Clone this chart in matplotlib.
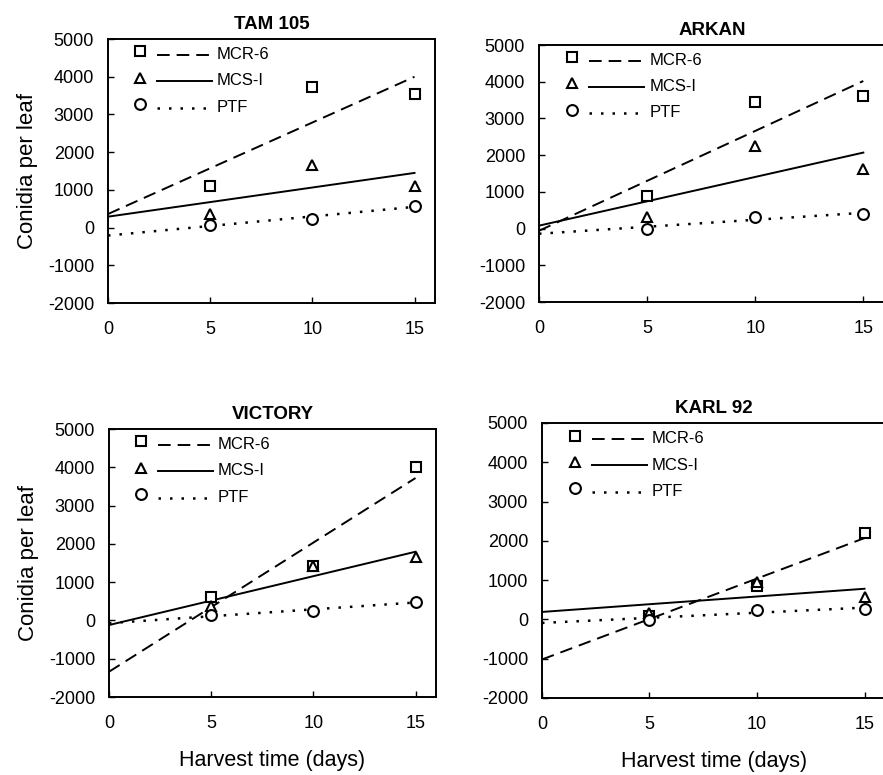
import matplotlib
matplotlib.use('Agg')
import matplotlib.pyplot as plt
from matplotlib.lines import Line2D

plt.rcParams['font.family'] = ['Liberation Sans', 'DejaVu Sans']
plt.rcParams['axes.unicode_minus'] = False

cultivars = ['TAM 105', 'ARKAN', 'VICTORY', 'KARL 92']
days = [5, 10, 15]
fit_days = [0, 15]
x_ticks = [0, 5, 10, 15]
y_ticks = [-2000, -1000, 0, 1000, 2000, 3000, 4000, 5000]
series = ['MCR-6', 'MCS-I', 'PTF']

mcr6_pts = [[1115, 3720, 3530], [900, 3450, 3610], [625, 1425, 4000], [85, 850, 2190]]
mcsi_pts = [[360, 1670, 1115], [315, 2240, 1630], [365, 1410, 1650], [170, 950, 575]]
ptf_pts = [[70, 220, 580], [0, 315, 405], [130, 235, 495], [-15, 240, 255]]

# regression lines, value at day 0 and day 15
mcr6_fit = [[360, 4000], [-60, 4020], [-1340, 3720], [-1020, 2070]]
mcsi_fit = [[290, 1450], [80, 2070], [-120, 1795], [190, 780]]
ptf_fit = [[-210, 550], [-140, 430], [-70, 470], [-90, 300]]

# axes boxes in figure fractions (scan is slightly skewed)
boxes = [[0.1223, 0.609, 0.3703, 0.3406],
         [0.6104, 0.6103, 0.3918, 0.3316],
         [0.1234, 0.1006, 0.3703, 0.3458],
         [0.6138, 0.0994, 0.3896, 0.3548]]

markers = ['s', '^', 'o']
line_kw = [dict(lw=1.4, dashes=(6.5, 3.6)),
           dict(lw=1.4, ls='-'),
           dict(lw=1.8, dashes=(1, 3.6))]


class MarkerLineHandler(object):
    # symbol on the left, line sample on the right
    def legend_artist(self, legend, orig_handle, fontsize, handlebox):
        mk, ln = orig_handle
        x0, y0 = handlebox.xdescent, handlebox.ydescent
        w, h = handlebox.width, handlebox.height
        tr = handlebox.get_transform()
        l = Line2D([x0 + 0.31 * w, x0 + w], [y0 + h * 0.35] * 2)
        l.update_from(ln)
        l.set_transform(tr)
        m = Line2D([x0 + 0.1 * w], [y0 + h * 0.65])
        m.update_from(mk)
        m.set_transform(tr)
        handlebox.add_artist(l)
        handlebox.add_artist(m)
        return l


fig = plt.figure(figsize=(8.83, 7.75), dpi=100)

for i, name in enumerate(cultivars):
    ax = fig.add_axes(boxes[i])
    pts = [mcr6_pts[i], mcsi_pts[i], ptf_pts[i]]
    fits = [mcr6_fit[i], mcsi_fit[i], ptf_fit[i]]
    handles = []
    for k in range(3):
        mk, = ax.plot(days, pts[k], ls='none', marker=markers[k], ms=7.8,
                      mfc='white', mec='black', mew=1.5, zorder=3)
        ln, = ax.plot(fit_days, fits[k], color='black', **line_kw[k])
        handles.append((mk, ln))
    ax.set_xlim(0, 16)
    ax.set_ylim(-2000, 5000)
    ax.set_xticks(x_ticks)
    ax.set_yticks(y_ticks)
    ax.tick_params(axis='x', direction='in', length=4, width=1, labelsize=13, pad=13)
    ax.tick_params(axis='y', direction='in', length=4, width=1, labelsize=13, pad=10)
    for s in ax.spines.values():
        s.set_linewidth(1.4)
    ax.set_title(name, fontsize=13.5, fontweight='bold', pad=7)
    if i % 2 == 0:
        ax.set_ylabel('Conidia per leaf', fontsize=16, labelpad=7)
    if i >= 2:
        ax.set_xlabel('Harvest time (days)', fontsize=15.5, labelpad=13)
    ax.legend(handles, series, handler_map={tuple: MarkerLineHandler()},
              loc='upper left', bbox_to_anchor=(0.073, 0.97), frameon=False,
              fontsize=12, handlelength=4.8, handletextpad=0.3,
              labelspacing=0.68, borderpad=0, borderaxespad=0)

plt.savefig('out.png', dpi=100)
